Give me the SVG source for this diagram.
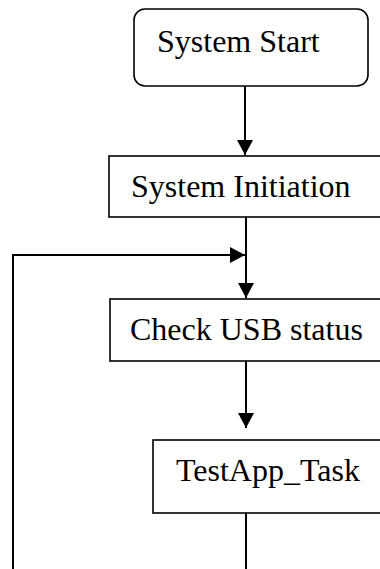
<svg xmlns="http://www.w3.org/2000/svg" width="380" height="569" viewBox="0 0 380 569">
  <style>
    .box { fill: #fff; stroke: #000; stroke-width: 1.6; }
    .lbl { font-family: "Liberation Serif", "Times New Roman", serif; font-size: 32px; fill: #000; }
    .wire { fill: none; stroke: #000; stroke-width: 2; }
  </style>
  <defs>
    <marker id="head" markerUnits="userSpaceOnUse" markerWidth="16" markerHeight="16" viewBox="0 0 16 16" refX="15" refY="8" orient="auto">
      <path d="M0,0 L15,8 L0,16 Z" fill="#000"/>
    </marker>
  </defs>

  <g id="connectors">
    <!-- start -> initiation -->
    <path class="wire" d="M245,86 L245,155" marker-end="url(#head)"/>
    <!-- initiation -> check usb -->
    <path class="wire" d="M246,217 L246,298" marker-end="url(#head)"/>
    <!-- loop return into main line -->
    <path class="wire" d="M13,569 L13,255 L245,255" marker-end="url(#head)"/>
    <!-- check usb -> task -->
    <path class="wire" d="M246,361 L246,428" marker-end="url(#head)"/>
    <!-- task -> continues below -->
    <path class="wire" d="M246,513 L246,569"/>
  </g>

  <g id="system-start">
    <rect class="box" x="134" y="9" width="234" height="77" rx="11" ry="11"/>
    <text class="lbl" x="157" y="52">System Start</text>
  </g>

  <g id="system-initiation">
    <rect class="box" x="109" y="156" width="290" height="61"/>
    <text class="lbl" x="131" y="197">System Initiation</text>
  </g>

  <g id="check-usb-status">
    <rect class="box" x="110" y="299" width="290" height="62"/>
    <text class="lbl" x="130" y="340">Check USB status</text>
  </g>

  <g id="testapp-task">
    <rect class="box" x="153" y="440" width="250" height="73"/>
    <text class="lbl" x="176" y="481">TestApp_Task</text>
  </g>
</svg>
